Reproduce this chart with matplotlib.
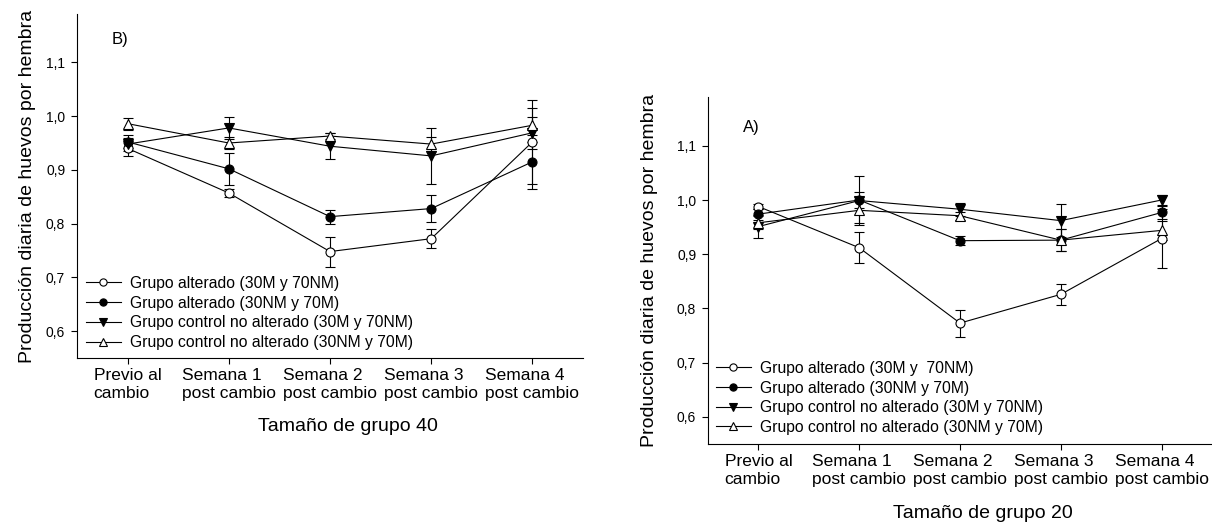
import matplotlib
matplotlib.use("Agg")
import matplotlib.pyplot as plt
from matplotlib.lines import Line2D
import numpy as np

plt.rcParams['font.family'] = ['Liberation Sans', 'DejaVu Sans']

categorias = ["Previo al\ncambio", "Semana 1\npost cambio", "Semana 2\npost cambio",
              "Semana 3\npost cambio", "Semana 4\npost cambio"]

# B) tamaño de grupo 40
b_alt_30M = [0.940, 0.857, 0.748, 0.772, 0.952]
b_alt_30M_err = [0.014, 0.007, 0.028, 0.018, 0.078]
b_alt_30NM = [0.952, 0.902, 0.813, 0.828, 0.915]
b_alt_30NM_err = [0.012, 0.030, 0.013, 0.025, 0.050]
b_ctrl_30M = [0.948, 0.978, 0.944, 0.926, 0.969]
b_ctrl_30M_err = [0.012, 0.021, 0.024, 0.052, 0.030]
b_ctrl_30NM = [0.986, 0.950, 0.963, 0.948, 0.983]
b_ctrl_30NM_err = [0.011, 0.012, 0.005, 0.013, 0.032]

# A) tamaño de grupo 20
a_alt_30M = [0.988, 0.912, 0.773, 0.826, 0.929]
a_alt_30M_err = [0.005, 0.029, 0.025, 0.020, 0.054]
a_alt_30NM = [0.974, 1.000, 0.925, 0.926, 0.977]
a_alt_30NM_err = [0.010, 0.014, 0.008, 0.020, 0.012]
a_ctrl_30M = [0.951, 0.999, 0.983, 0.962, 1.000]
a_ctrl_30M_err = [0.021, 0.045, 0.012, 0.030, 0.010]
a_ctrl_30NM = [0.958, 0.981, 0.971, 0.926, 0.944]
a_ctrl_30NM_err = [0.012, 0.024, 0.007, 0.020, 0.018]

labels_b = ["Grupo alterado (30M y 70NM)", "Grupo alterado (30NM y 70M)",
            "Grupo control no alterado (30M y 70NM)", "Grupo control no alterado (30NM y 70M)"]
labels_a = ["Grupo alterado (30M y  70NM)", "Grupo alterado (30NM y 70M)",
            "Grupo control no alterado (30M y 70NM)", "Grupo control no alterado (30NM y 70M)"]

estilos = [("o", "white", 6.5), ("o", "black", 6.5), ("v", "black", 7), ("^", "white", 7)]


def panel(ax, series, errs, labels, letra, xlabel, ylab_x, xlab_pos, leg_anchor, letra_pos):
    x = np.arange(len(categorias))
    handles = []
    for (m, fc, ms), y, e, lab in zip(estilos, series, errs, labels):
        ax.errorbar(x, y, yerr=e, color="black", lw=0.8, elinewidth=0.8,
                    capsize=3.6, capthick=0.8, marker=m, ms=ms, mfc=fc,
                    mec="black", mew=0.8)
        handles.append(Line2D([], [], color="black", lw=0.8, marker=m, ms=ms * 0.8,
                              mfc=fc, mec="black", mew=0.8, label=lab))
    ax.set_xlim(-0.5, 4.5)
    ax.set_ylim(0.55, 1.19)
    ax.set_yticks([0.6, 0.7, 0.8, 0.9, 1.0, 1.1])
    ax.set_yticklabels(["0,6", "0,7", "0,8", "0,9", "1,0", "1,1"], fontsize=10)
    ax.set_xticks(x)
    ax.set_xticklabels(categorias, fontsize=12.5, multialignment="left")
    ax.tick_params(axis="x", length=4, width=0.8, pad=3.5)
    ax.tick_params(axis="y", length=4, width=0.8, pad=4.5)
    for s in ["top", "right"]:
        ax.spines[s].set_visible(False)
    for s in ["left", "bottom"]:
        ax.spines[s].set_linewidth(0.8)
    ax.set_ylabel("Producción diaria de huevos por hembra", fontsize=14)
    ax.yaxis.set_label_coords(ylab_x, 0.5)
    ax.set_xlabel(xlabel, fontsize=14)
    ax.xaxis.set_label_coords(*xlab_pos)
    ax.text(letra_pos[0], letra_pos[1], letra, transform=ax.transAxes,
            fontsize=12, va="center", ha="left")
    ax.legend(handles=handles, loc="lower left", bbox_to_anchor=leg_anchor, frameon=False,
              fontsize=11.3, borderpad=0, labelspacing=0.3, handlelength=2.2,
              handletextpad=0.6, borderaxespad=0)


fig = plt.figure(figsize=(12.12, 5.23), dpi=100)
ax_b = fig.add_axes([77 / 1212, 165 / 523, 506 / 1212, 344 / 523])
ax_a = fig.add_axes([708 / 1212, 79 / 523, 504 / 1212, 347 / 523])

panel(ax_b, [b_alt_30M, b_alt_30NM, b_ctrl_30M, b_ctrl_30NM],
      [b_alt_30M_err, b_alt_30NM_err, b_ctrl_30M_err, b_ctrl_30NM_err],
      labels_b, "B)", "Tamaño de grupo 40", -0.081, (0.536, -0.175),
      (0.018, 0.023), (0.069, 0.927))
panel(ax_a, [a_alt_30M, a_alt_30NM, a_ctrl_30M, a_ctrl_30NM],
      [a_alt_30M_err, a_alt_30NM_err, a_ctrl_30M_err, a_ctrl_30NM_err],
      labels_a, "A)", "Tamaño de grupo 20", -0.099, (0.545, -0.175),
      (0.016, 0.026), (0.069, 0.911))

fig.savefig("out.png", dpi=100)
